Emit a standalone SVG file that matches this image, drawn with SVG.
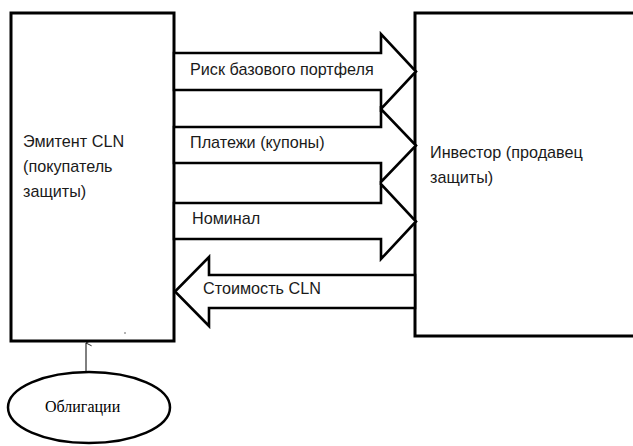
<svg xmlns="http://www.w3.org/2000/svg" width="633" height="446" viewBox="0 0 633 446">
  <defs>
    <style>
      .box { fill: #ffffff; stroke: #000000; stroke-width: 3; }
      .arrow { fill: #ffffff; stroke: #000000; stroke-width: 2.6; stroke-linejoin: miter; }
      .lbl { font-family: "Liberation Sans", Arial, sans-serif; font-size: 16.2px; fill: #1a1a1a; }
      .serif { font-family: "Liberation Serif", "Times New Roman", serif; font-size: 16px; fill: #000000; }
    </style>
    <marker id="tip" viewBox="0 0 10 10" refX="5" refY="1" markerWidth="7" markerHeight="7" markerUnits="userSpaceOnUse" orient="auto-start-reverse">
      <path d="M1,9 L5,1 L9,9" fill="none" stroke="#000" stroke-width="1.2"/>
    </marker>
  </defs>
  <rect width="633" height="446" fill="#ffffff"/>

  <g id="issuer">
    <rect class="box" x="11" y="13" width="163" height="328"/>
    <text class="lbl" x="23" y="147">Эмитент CLN</text>
    <text class="lbl" x="23" y="172">(покупатель</text>
    <text class="lbl" x="23" y="197">защиты)</text>
    <circle cx="125" cy="333" r="0.8" fill="#555"/>
  </g>

  <g id="investor">
    <rect class="box" x="415" y="13" width="240" height="323"/>
    <text class="lbl" x="430" y="158">Инвестор (продавец</text>
    <text class="lbl" x="430" y="183">защиты)</text>
  </g>

  <g id="bonds">
    <ellipse cx="89" cy="407.5" rx="81" ry="35.5" fill="#ffffff" stroke="#000" stroke-width="2.5"/>
    <text class="serif" x="45" y="412">Облигации</text>
  </g>

  <g id="connectors">
    <line x1="86" y1="372" x2="86" y2="343" stroke="#000" stroke-width="1" marker-end="url(#tip)"/>
    <g id="arrow-risk">
      <path class="arrow" d="M174,53 L381,53 L381,34 L416,71.5 L381,109 L381,90 L174,90 Z"/>
      <text class="lbl" x="190" y="75">Риск базового портфеля</text>
    </g>
    <g id="arrow-coupons">
      <path class="arrow" d="M174,127 L381,127 L381,109 L416,145.5 L381,182 L381,163 L174,163 Z"/>
      <text class="lbl" x="190" y="148">Платежи (купоны)</text>
    </g>
    <g id="arrow-nominal">
      <path class="arrow" d="M174,203 L381,203 L381,184 L416,221.5 L381,259 L381,239 L174,239 Z"/>
      <text class="lbl" x="192" y="224">Номинал</text>
    </g>
    <g id="arrow-cln">
      <path class="arrow" d="M415,275 L209,275 L209,257 L175,291.5 L209,326 L209,308 L415,308 Z"/>
      <text class="lbl" x="203" y="294">Стоимость CLN</text>
    </g>
  </g>
</svg>
